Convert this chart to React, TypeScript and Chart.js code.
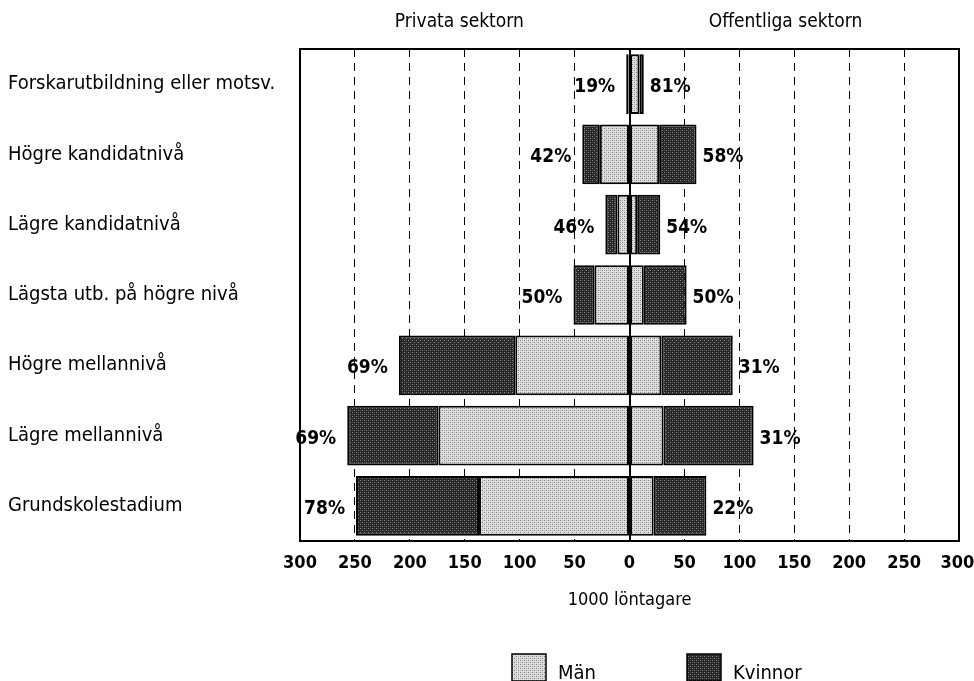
import React, { useEffect, useRef } from "react";
import { Chart, registerables } from "chart.js";

Chart.register(...registerables);

const categories = [
  "Forskarutbildning eller motsv.",
  "Högre kandidatnivå",
  "Lägre kandidatnivå",
  "Lägsta utb. på högre nivå",
  "Högre mellannivå",
  "Lägre mellannivå",
  "Grundskolestadium",
];
const privateMen = [1, 27, 11, 32, 104, 174, 137];
const privateWomen = [2, 16, 11, 19, 106, 83, 112];
const publicMen = [9, 27, 7, 13, 29, 31, 22];
const publicWomen = [4, 34, 21, 39, 65, 82, 48];
const privateShare = ["19%", "42%", "46%", "50%", "69%", "69%", "78%"];
const publicShare = ["81%", "58%", "54%", "50%", "31%", "31%", "22%"];
const sectorTitles = ["Privata sektorn", "Offentliga sektorn"];
const seriesNames = ["Män", "Kvinnor"];
const axisTitle = "1000 löntagare";

const FONT = "'Liberation Sans Narrow', 'DejaVu Sans Condensed', 'Roboto', sans-serif";

function makePattern(bg: string, dot: string, dot2: string) {
  const c = document.createElement("canvas");
  c.width = 4;
  c.height = 4;
  const g = c.getContext("2d")!;
  g.fillStyle = bg;
  g.fillRect(0, 0, 4, 4);
  g.fillStyle = dot;
  g.fillRect(0, 0, 1, 1);
  g.fillRect(2, 2, 1, 1);
  g.fillStyle = dot2;
  g.fillRect(2, 0, 1, 1);
  g.fillRect(0, 2, 1, 1);
  return g.createPattern(c, "repeat")!;
}

const overlayPlugin = {
  id: "overlay",
  afterDatasetsDraw(chart: any) {
    const { ctx, chartArea, scales } = chart;
    const x = scales.x;
    const y = scales.y;
    ctx.save();
    // zero line
    ctx.strokeStyle = "#000";
    ctx.lineWidth = 2;
    ctx.beginPath();
    const x0 = Math.round(x.getPixelForValue(0));
    ctx.moveTo(x0, chartArea.top);
    ctx.lineTo(x0, chartArea.bottom);
    ctx.stroke();
    // frame
    ctx.strokeRect(chartArea.left, chartArea.top, chartArea.right - chartArea.left, chartArea.bottom - chartArea.top);
    // share labels
    ctx.fillStyle = "#000";
    ctx.font = `bold 19px ${FONT}`;
    ctx.textBaseline = "middle";
    categories.forEach((_, i) => {
      const yc = y.getPixelForValue(i) + 3;
      const lx = x.getPixelForValue(-(privateMen[i] + privateWomen[i]));
      const rx = x.getPixelForValue(publicMen[i] + publicWomen[i]);
      ctx.textAlign = "right";
      ctx.fillText(privateShare[i], lx - 11, yc);
      ctx.textAlign = "left";
      ctx.fillText(publicShare[i], rx + 6, yc);
    });
    // sector titles
    ctx.font = `19px ${FONT}`;
    ctx.textAlign = "center";
    ctx.fillText(sectorTitles[0], x.getPixelForValue(-155), 22);
    ctx.fillText(sectorTitles[1], x.getPixelForValue(142), 22);
    // legend
    const pats = [chart.data.datasets[0].backgroundColor, chart.data.datasets[1].backgroundColor];
    const boxX = [512, 687];
    ctx.font = `20px ${FONT}`;
    ctx.textAlign = "left";
    ctx.textBaseline = "alphabetic";
    ctx.lineWidth = 1.5;
    seriesNames.forEach((name, i) => {
      ctx.fillStyle = pats[i];
      ctx.fillRect(boxX[i], 654, 34, 27);
      ctx.strokeStyle = "#000";
      ctx.strokeRect(boxX[i], 654, 34, 27);
      ctx.fillStyle = "#000";
      ctx.fillText(name, boxX[i] + 46, 679);
    });
    ctx.restore();
  },
};

export default function App() {
  const ref = useRef<HTMLCanvasElement | null>(null);
  useEffect(() => {
    const menPat = makePattern("#dedede", "#7a7a7a", "#b8b8b8");
    const womenPat = makePattern("#262626", "#8c8c8c", "#404040");
    const common = {
      borderColor: "#000",
      borderWidth: 2,
      borderSkipped: false,
      barPercentage: 0.85,
      categoryPercentage: 1,
    };
    const chart = new Chart(ref.current!, {
      type: "bar",
      data: {
        labels: categories,
        datasets: [
          { label: seriesNames[0], data: privateMen.map((v) => -v), backgroundColor: menPat, ...common },
          { label: seriesNames[1], data: privateWomen.map((v) => -v), backgroundColor: womenPat, ...common },
          { label: seriesNames[0] + " (offentlig)", data: publicMen, backgroundColor: menPat, ...common },
          { label: seriesNames[1] + " (offentlig)", data: publicWomen, backgroundColor: womenPat, ...common },
        ],
      },
      options: {
        indexAxis: "y",
        responsive: false,
        animation: false,
        layout: { padding: { left: 8, top: 49, right: 15, bottom: 0 } },
        plugins: {
          tooltip: { enabled: false },
          legend: { display: false },
        },
        scales: {
          x: {
            stacked: true,
            min: -300,
            max: 300,
            ticks: {
              stepSize: 50,
              color: "#000",
              padding: 12,
              font: { family: FONT, size: 18, weight: "bold" },
              callback: (v: any) => String(Math.abs(Number(v))) + (Number(v) === 300 ? "\u2009" : ""),
            },
            grid: {
              color: (c: any) => (c.tick && c.tick.value === 0 ? "rgba(0,0,0,0)" : "#000"),
              lineWidth: 1,
              drawTicks: false,
            },
            border: { display: false, dash: [8, 6] },
            title: {
              display: true,
              text: axisTitle,
              color: "#000",
              font: { family: FONT, size: 18 },
              padding: { top: 16, bottom: 70 },
            },
            afterFit: (s: any) => {
              s.height = 140;
              s.paddingLeft = 0;
              s.paddingRight = 0;
            },
          },
          y: {
            stacked: true,
            grid: { display: false },
            border: { display: false },
            ticks: {
              crossAlign: "far",
              color: "#000",
              font: { family: FONT, size: 20 },
            },
            afterFit: (s: any) => {
              s.width = 292;
            },
          },
        },
      },
      plugins: [overlayPlugin],
    } as any);
    return () => chart.destroy();
  }, []);
  return (
    <div style={{ position: "fixed", left: 0, top: 0, width: 974, height: 681, background: "#fff" }}>
      <canvas ref={ref} width={974} height={681} />
    </div>
  );
}
